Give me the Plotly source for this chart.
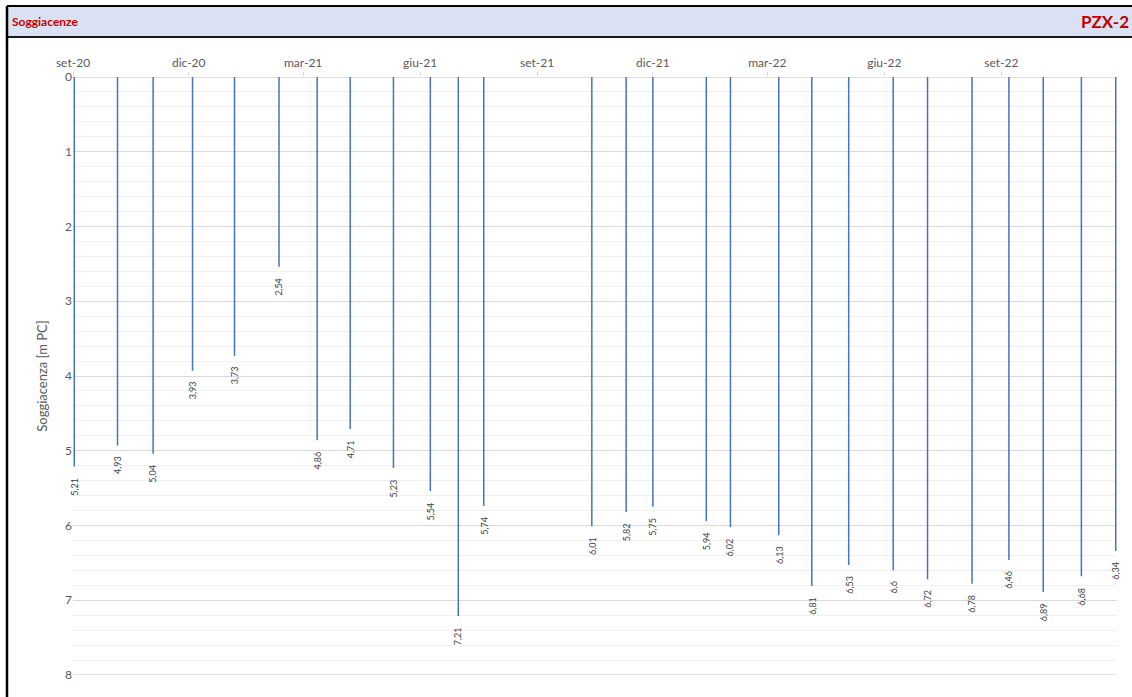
import plotly.graph_objects as go
from datetime import date, timedelta

# Measurement dates and groundwater depth (m below reference point)
dates = [
    "2020-09-02", "2020-10-06", "2020-11-03", "2020-12-04", "2021-01-06",
    "2021-02-10", "2021-03-12", "2021-04-07", "2021-05-11", "2021-06-09",
    "2021-07-01", "2021-07-21", "2021-10-14", "2021-11-10", "2021-12-01",
    "2022-01-12", "2022-01-31", "2022-03-10", "2022-04-05", "2022-05-04",
    "2022-06-08", "2022-07-05", "2022-08-09", "2022-09-07", "2022-10-04",
    "2022-11-03", "2022-11-30",
]
depths = [
    5.21, 4.93, 5.04, 3.93, 3.73, 2.54, 4.86, 4.71, 5.23, 5.54,
    7.21, 5.74, 6.01, 5.82, 5.75, 5.94, 6.02, 6.13, 6.81, 6.53,
    6.6, 6.72, 6.78, 6.46, 6.89, 6.68, 6.34,
]
tick_dates = ["2020-09-01", "2020-12-01", "2021-03-01", "2021-06-01", "2021-09-01",
              "2021-12-01", "2022-03-01", "2022-06-01", "2022-09-01"]
tick_labels = ["set-20", "dic-20", "mar-21", "giu-21", "set-21",
               "dic-21", "mar-22", "giu-22", "set-22"]
depth_range = [0, 8]

FONT = "Lato, 'Open Sans', sans-serif"
GREY = "#595959"
RED = "#C00000"
GRID = "#D9D9D9"

# Vertical drop lines from 0 down to each depth
xs, ys = [], []
for d, v in zip(dates, depths):
    xs += [d, d, None]
    ys += [0, v, None]

fig = go.Figure()
fig.add_trace(go.Scatter(
    x=xs, y=ys, mode="lines",
    line=dict(color="#4472C4", width=1.5),
    hoverinfo="skip", showlegend=False,
))

# Rotated value labels under each line
for d, v in zip(dates, depths):
    fig.add_annotation(
        x=d, y=v, xref="x", yref="y",
        text=f"{v:g}".replace(".", ","),
        textangle=-90, showarrow=False,
        xanchor="center", yanchor="top", yshift=-9,
        font=dict(family=FONT, size=9, color="#404040"),
    )

# Plot-area geometry in pixels, used to place the header band
W, H = 1132, 697
L, R, T, B = 73, 1117, 77, 675


def px(x):
    return (x - L) / (R - L)


def py(y):
    return (B - y) / (B - T)


shapes = [
    # header band
    dict(type="rect", xref="paper", yref="paper",
         x0=px(7), x1=px(W + 5), y0=py(37), y1=py(6),
         fillcolor="#D9E1F2", line=dict(width=0), layer="below"),
    dict(type="line", xref="paper", yref="paper",
         x0=px(7), x1=px(W + 5), y0=py(6), y1=py(6),
         line=dict(color="#000000", width=2)),
    dict(type="line", xref="paper", yref="paper",
         x0=px(7), x1=px(W + 5), y0=py(37), y1=py(37),
         line=dict(color="#1a1a1a", width=2)),
    # left frame
    dict(type="line", xref="paper", yref="paper",
         x0=px(7), x1=px(7), y0=py(6), y1=py(H + 5),
         line=dict(color="#000000", width=2.5)),
]
# gridlines on the two ends of the depth axis
for v in depth_range:
    shapes.append(dict(type="line", xref="paper", yref="y",
                       x0=0, x1=1, y0=v, y1=v, layer="below",
                       line=dict(color=GRID, width=1.5)))

fig.add_annotation(
    xref="paper", yref="paper", x=px(10), y=py(22),
    xanchor="left", yanchor="middle", showarrow=False,
    text="<b>Soggiacenze</b>", font=dict(family=FONT, size=12, color=RED),
)
fig.add_annotation(
    xref="paper", yref="paper", x=px(W - 1), y=py(22),
    xanchor="right", yanchor="middle", showarrow=False,
    text="<b>PZX-2</b>", font=dict(family=FONT, size=17, color=RED),
)

start = date(2020, 9, 1)
end = start + timedelta(days=(R - L) / 1.2712)

fig.update_layout(
    width=W, height=H,
    margin=dict(l=L, r=W - R, t=T, b=H - B),
    paper_bgcolor="white", plot_bgcolor="white",
    shapes=shapes,
    font=dict(family=FONT, color=GREY),
    xaxis=dict(
        type="date", side="top",
        range=[start.isoformat(), end.isoformat()],
        tickvals=tick_dates, ticktext=tick_labels,
        ticks="outside", ticklen=4, tickcolor=GRID,
        showgrid=False, zeroline=False, showline=False,
        tickfont=dict(family=FONT, size=12, color=GREY),
    ),
    yaxis=dict(
        range=depth_range[::-1], dtick=1,
        showgrid=True, gridcolor=GRID, gridwidth=1,
        minor=dict(dtick=0.2, showgrid=True, gridcolor="#F0F0F0", gridwidth=1),
        zeroline=False, showline=False, ticks="",
        tickfont=dict(family=FONT, size=12, color=GREY),
        title=dict(text="Soggiacenza [m PC]", standoff=14,
                   font=dict(family=FONT, size=13, color=GREY)),
    ),
)

fig.write_html("out.html")
